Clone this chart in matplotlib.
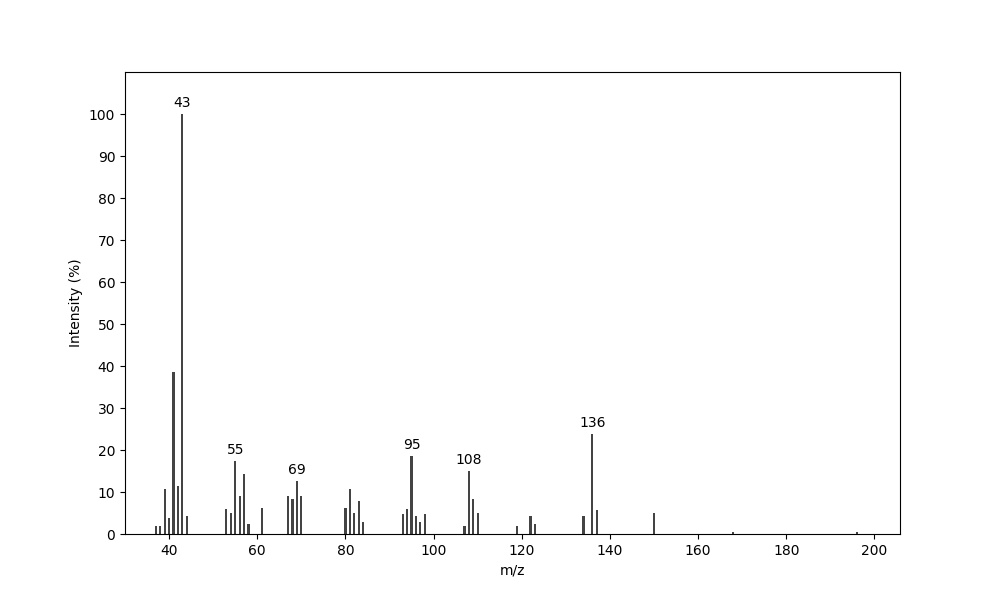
import numpy as np
import matplotlib
matplotlib.use('Agg')
import matplotlib.pyplot as plt

# m/z values and relative intensities (%)
mz = [37, 38, 39, 40, 41, 42, 43, 44,
      53, 54, 55, 56, 57, 58, 61,
      67, 68, 69, 70,
      80, 81, 82, 83, 84,
      93, 94, 95, 96, 97, 98,
      107, 108, 109, 110,
      119, 122, 123,
      134, 136, 137, 150, 168, 196]
intensity = [2.0, 2.0, 10.7, 3.8, 38.5, 11.5, 100.0, 4.4,
             6.0, 4.9, 17.4, 9.1, 14.3, 2.4, 6.3,
             9.1, 8.4, 12.6, 9.1,
             6.2, 10.7, 5.0, 7.9, 2.9,
             4.8, 6.0, 18.6, 4.3, 2.9, 4.8,
             1.9, 15.0, 8.4, 5.0,
             1.9, 4.3, 2.4,
             4.4, 23.7, 5.6, 5.1, 0.4, 0.4]

# peaks that get a label
labelled = [43, 55, 69, 95, 108, 136]

fig, ax = plt.subplots(figsize=(10, 6), dpi=100)
ax.bar(mz, intensity, width=0.5, color='#444444')

for m, h in zip(mz, intensity):
    if m in labelled:
        ax.text(m, h + 1, str(m), ha='center', va='bottom', fontsize=10)

ax.set_xlim(30, 205.8)
ax.set_ylim(0, 110)
ax.set_yticks(np.arange(0, 101, 10))
ax.set_xlabel('m/z')
ax.set_ylabel('Intensity (%)')

fig.savefig('out.png')
